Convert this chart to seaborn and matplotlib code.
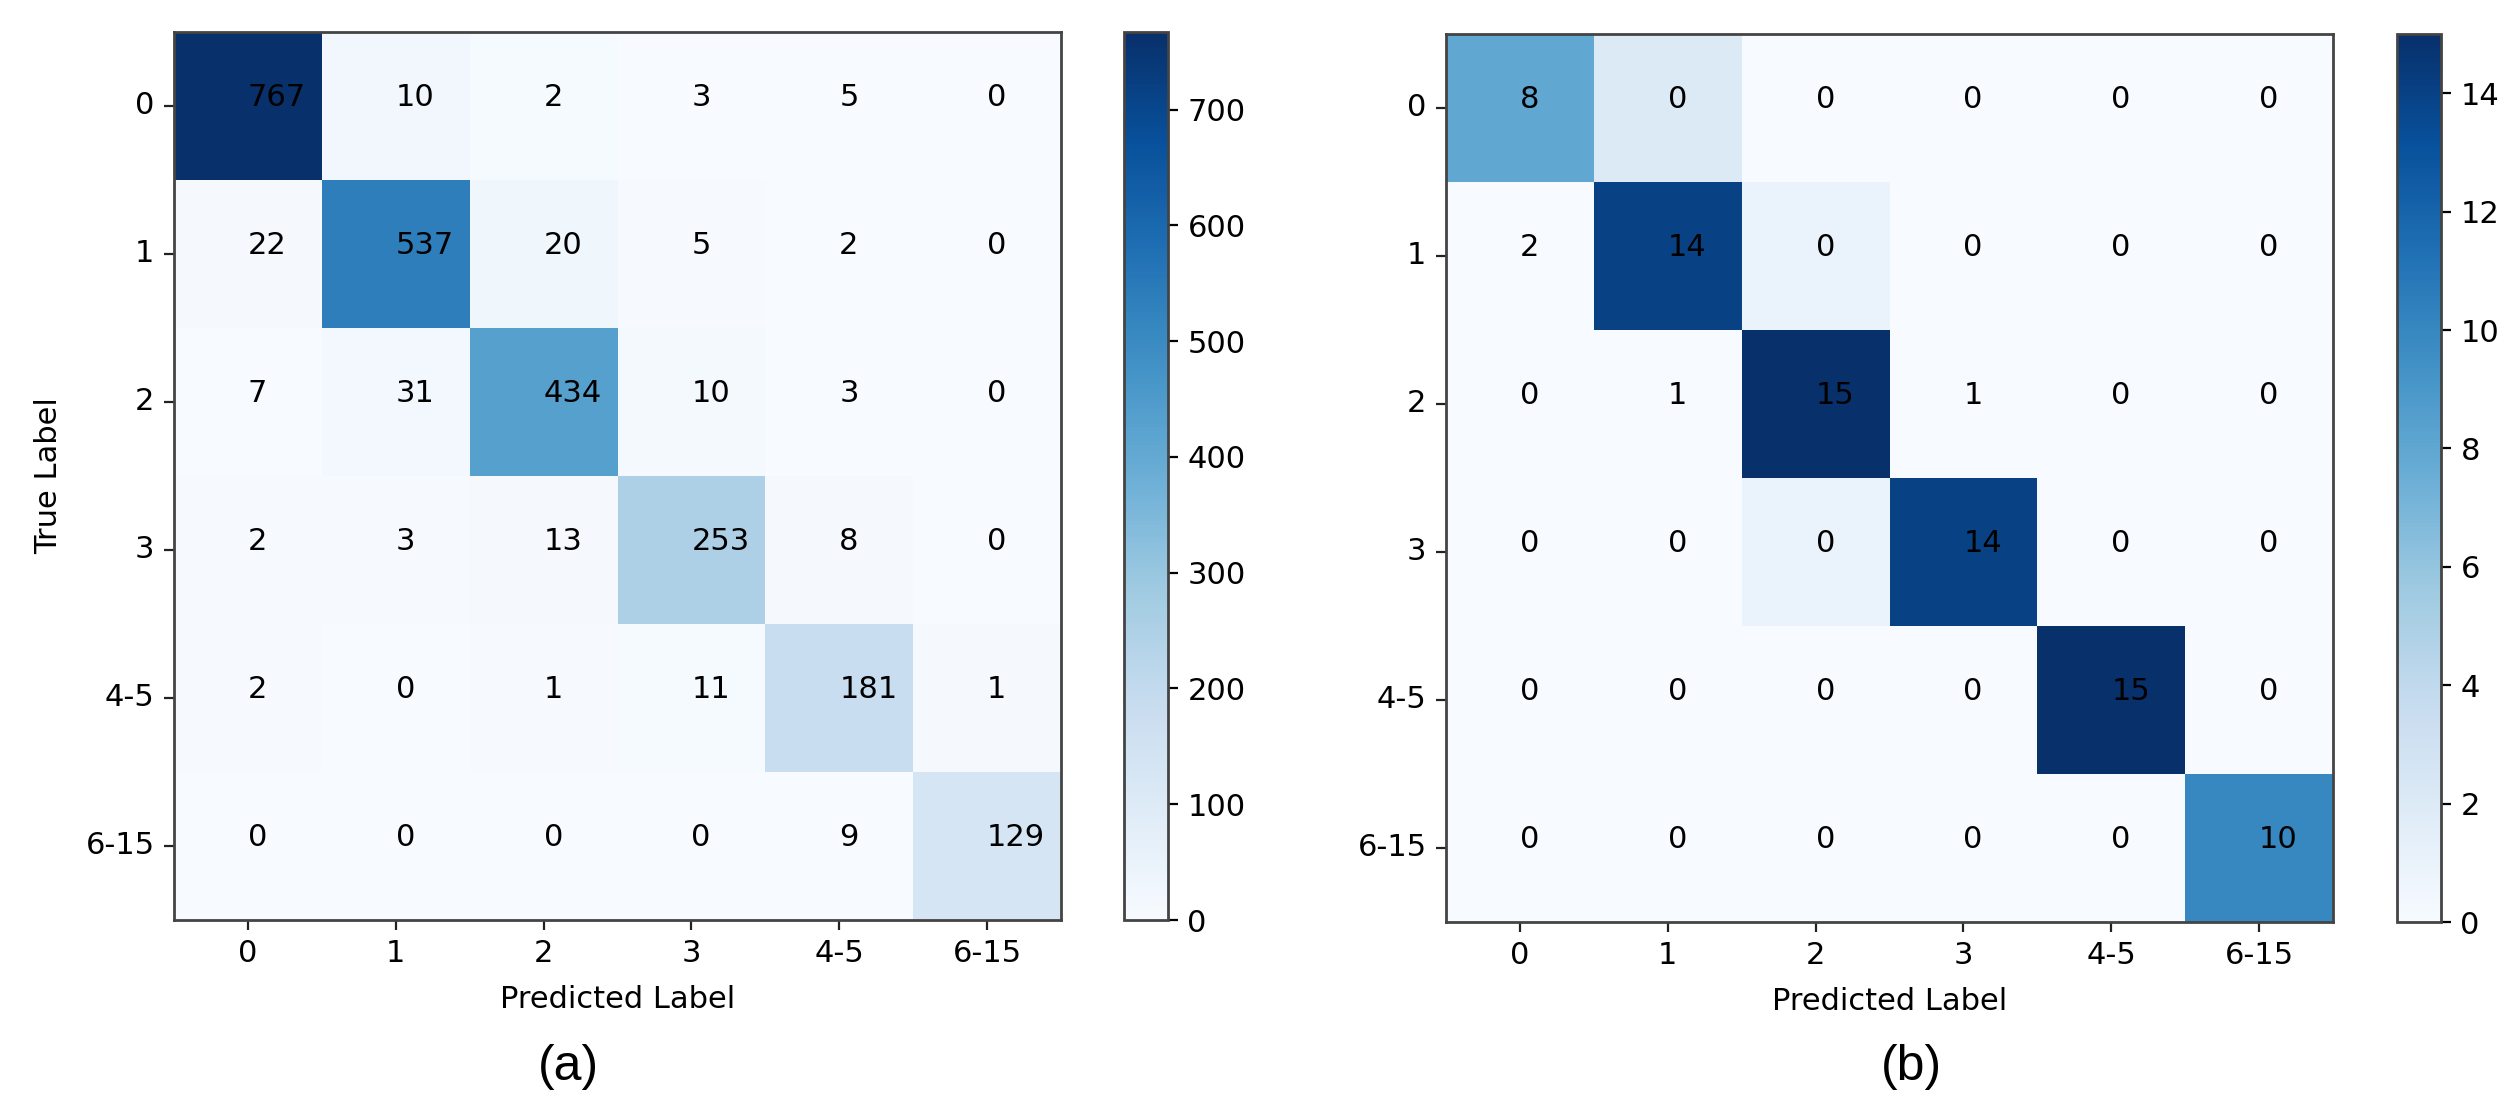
import numpy as np
import matplotlib
matplotlib.use("Agg")
import matplotlib.pyplot as plt
import seaborn as sns

labels = ["0", "1", "2", "3", "4-5", "6-15"]

# confusion matrix (a), rows = true, cols = predicted
cm_a = np.array([
    [767, 10, 2, 3, 5, 0],
    [22, 537, 20, 5, 2, 0],
    [7, 31, 434, 10, 3, 0],
    [2, 3, 13, 253, 8, 0],
    [2, 0, 1, 11, 181, 1],
    [0, 0, 0, 0, 9, 129],
])

# confusion matrix (b)
cm_b = np.array([
    [8, 0, 0, 0, 0, 0],
    [2, 14, 0, 0, 0, 0],
    [0, 1, 15, 1, 0, 0],
    [0, 0, 0, 14, 0, 0],
    [0, 0, 0, 0, 15, 0],
    [0, 0, 0, 0, 0, 10],
])

plt.rcParams["font.family"] = ["DejaVu Sans"]
plt.rcParams["font.size"] = 11

W, H = 2507, 1120
fig = plt.figure(figsize=(W / 200, H / 200), dpi=200)

panels = [
    (cm_a, [174, 32, 887, 888], [1124, 32, 44, 888], True, "(a)", 568),
    (cm_b, [1446, 34, 887, 888], [2397, 34, 44, 888], False, "(b)", 1911),
]

for cm, ax_px, cb_px, ylab, tag, tag_x in panels:
    ax = fig.add_axes([ax_px[0] / W, 1 - (ax_px[1] + ax_px[3]) / H, ax_px[2] / W, ax_px[3] / H])
    cax = fig.add_axes([cb_px[0] / W, 1 - (cb_px[1] + cb_px[3]) / H, cb_px[2] / W, cb_px[3] / H])
    # the colours in the source figure follow the transposed matrix
    sns.heatmap(cm.T, annot=cm, fmt="d", cmap="Blues", vmin=0, vmax=cm.max(),
                ax=ax, cbar_ax=cax, linewidths=0,
                annot_kws={"color": "black", "ha": "left", "va": "baseline", "fontsize": 11},
                xticklabels=labels, yticklabels=labels)
    for s in ax.spines.values():
        s.set_visible(True)
        s.set_color("#444444")
        s.set_linewidth(1.0)
    ax.tick_params(axis="both", length=3.5, width=0.8, labelsize=11, color="#222222")
    ax.set_yticklabels(labels, rotation=0)
    ax.set_xticklabels(labels, rotation=0)
    ax.set_xlabel("Predicted Label", fontsize=11, labelpad=6)
    if ylab:
        ax.set_ylabel("True Label", fontsize=11, labelpad=8)
    cax.tick_params(labelsize=11, length=3.5, width=0.8)
    cbar = ax.collections[0].colorbar
    cbar.outline.set_visible(True)
    cbar.outline.set_edgecolor("#444444")
    cbar.outline.set_linewidth(1.0)
    fig.text(tag_x / W, 1 - 1067 / H, tag, ha="center", va="center",
             fontsize=18, family=["Liberation Sans", "DejaVu Sans"])

fig.savefig("out.png", dpi=200, facecolor="white")
